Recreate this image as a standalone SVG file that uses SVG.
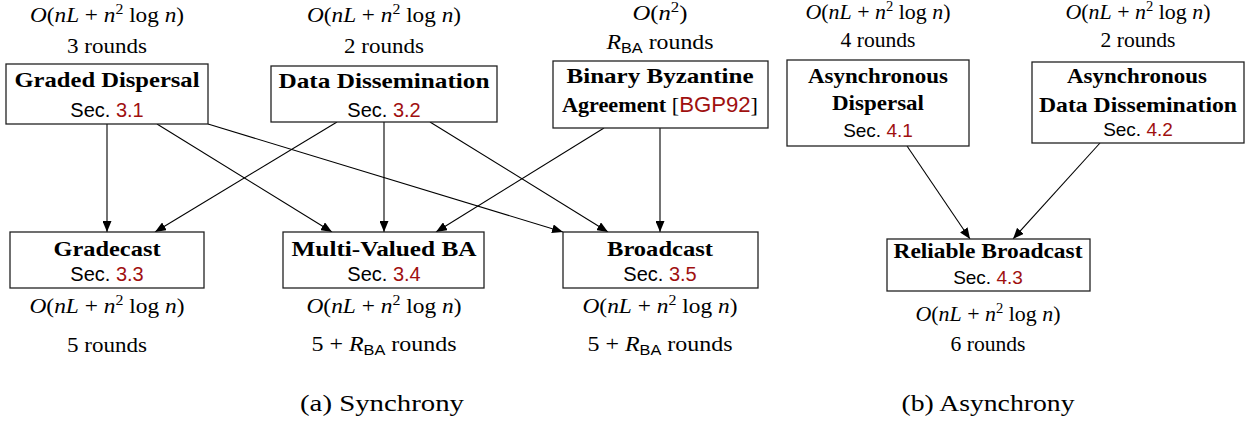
<svg xmlns="http://www.w3.org/2000/svg" width="1252" height="428" viewBox="0 0 1252 428">
<style>
  .t { font-family: "Liberation Serif", "DejaVu Serif", serif; font-size: 22px; fill: #000; text-anchor: middle; }
  .ta { font-family: "Liberation Serif", "DejaVu Serif", serif; font-size: 21px; fill: #000; text-anchor: middle; }
  .b { font-weight: bold; }
  .i { font-style: italic; }
  .s { font-family: "Liberation Sans", "DejaVu Sans", sans-serif; font-size: 20px; fill: #000; text-anchor: middle; }
  .sa { font-family: "Liberation Sans", "DejaVu Sans", sans-serif; font-size: 19px; fill: #000; text-anchor: middle; }
  .sub { font-family: "Liberation Sans", "DejaVu Sans", sans-serif; font-size: 15px; font-style: normal; }
  .sf { font-family: "Liberation Sans", "DejaVu Sans", sans-serif; font-weight: normal; }
  .red { fill: #a01010; }
  .box { fill: #fff; stroke: #222; stroke-width: 1.3; }
  .edge { fill: none; stroke: #000; stroke-width: 1.1; marker-end: url(#arr); }
  .cap { font-family: "Liberation Serif", "DejaVu Serif", serif; font-size: 23px; fill: #000; text-anchor: middle; }
</style>
<defs>
  <marker id="arr" markerUnits="userSpaceOnUse" markerWidth="11" markerHeight="9" refX="11" refY="4.5" orient="auto">
    <path d="M0,0 L11,4.5 L0,9 z" fill="#000"/>
  </marker>
</defs>
<rect width="1252" height="428" fill="#fff"/>

<g id="connectors">
  <line class="edge" x1="107" y1="124" x2="107" y2="232"/>
  <line class="edge" x1="157" y1="124" x2="332" y2="232"/>
  <line class="edge" x1="208" y1="124" x2="563" y2="232"/>
  <line class="edge" x1="337" y1="122" x2="155" y2="232"/>
  <line class="edge" x1="384" y1="122" x2="384" y2="232"/>
  <line class="edge" x1="430" y1="122" x2="608" y2="232"/>
  <line class="edge" x1="604" y1="128" x2="436" y2="232"/>
  <line class="edge" x1="660" y1="128" x2="660" y2="232"/>
  <line class="edge" x1="907" y1="146" x2="970" y2="239"/>
  <line class="edge" x1="1100" y1="143" x2="1013" y2="239"/>
</g>

<g id="graded-dispersal">
  <text class="t" x="107" y="22" textLength="154" lengthAdjust="spacingAndGlyphs"><tspan class="i">O</tspan>(<tspan class="i">nL</tspan> + <tspan class="i">n</tspan><tspan font-size="15" dy="-8">2</tspan><tspan dy="8"> log </tspan><tspan class="i">n</tspan>)</text>
  <text class="t" x="107" y="53" textLength="80" lengthAdjust="spacingAndGlyphs">3 rounds</text>
  <rect class="box" x="6" y="64" width="202" height="60"/>
  <text class="t b" x="107" y="87" textLength="185" lengthAdjust="spacingAndGlyphs">Graded Dispersal</text>
  <text class="s" x="107" y="117">Sec. <tspan class="red">3.1</tspan></text>
</g>

<g id="data-dissemination">
  <text class="t" x="384" y="22" textLength="154" lengthAdjust="spacingAndGlyphs"><tspan class="i">O</tspan>(<tspan class="i">nL</tspan> + <tspan class="i">n</tspan><tspan font-size="15" dy="-8">2</tspan><tspan dy="8"> log </tspan><tspan class="i">n</tspan>)</text>
  <text class="t" x="384" y="53" textLength="80" lengthAdjust="spacingAndGlyphs">2 rounds</text>
  <rect class="box" x="271" y="66" width="226" height="56"/>
  <text class="t b" x="384" y="88" textLength="211" lengthAdjust="spacingAndGlyphs">Data Dissemination</text>
  <text class="s" x="384" y="117">Sec. <tspan class="red">3.2</tspan></text>
</g>

<g id="binary-ba">
  <text class="t" x="660" y="20" textLength="55" lengthAdjust="spacingAndGlyphs"><tspan class="i">O</tspan>(<tspan class="i">n</tspan><tspan font-size="15" dy="-8">2</tspan><tspan dy="8">)</tspan></text>
  <text class="t" x="660" y="49" textLength="107" lengthAdjust="spacingAndGlyphs"><tspan class="i">R</tspan><tspan class="sub" dy="4">BA</tspan><tspan dy="-4"> rounds</tspan></text>
  <rect class="box" x="553" y="61" width="215" height="67"/>
  <text class="t b" x="660" y="83" textLength="187" lengthAdjust="spacingAndGlyphs">Binary Byzantine</text>
  <text class="t" x="660" y="112" textLength="196" lengthAdjust="spacingAndGlyphs"><tspan class="b">Agreement</tspan> [<tspan class="sf red">BGP92</tspan>]</text>
</g>

<g id="async-dispersal">
  <text class="ta" x="878" y="19" textLength="145" lengthAdjust="spacingAndGlyphs"><tspan class="i">O</tspan>(<tspan class="i">nL</tspan> + <tspan class="i">n</tspan><tspan font-size="14" dy="-8">2</tspan><tspan dy="8"> log </tspan><tspan class="i">n</tspan>)</text>
  <text class="ta" x="878" y="47" textLength="75" lengthAdjust="spacingAndGlyphs">4 rounds</text>
  <rect class="box" x="787" y="60" width="182" height="86"/>
  <text class="ta b" x="878" y="83" textLength="140" lengthAdjust="spacingAndGlyphs">Asynchronous</text>
  <text class="ta b" x="878" y="110" textLength="92" lengthAdjust="spacingAndGlyphs">Dispersal</text>
  <text class="sa" x="878" y="137">Sec. <tspan class="red">4.1</tspan></text>
</g>

<g id="async-data-dissemination">
  <text class="ta" x="1138" y="19" textLength="145" lengthAdjust="spacingAndGlyphs"><tspan class="i">O</tspan>(<tspan class="i">nL</tspan> + <tspan class="i">n</tspan><tspan font-size="14" dy="-8">2</tspan><tspan dy="8"> log </tspan><tspan class="i">n</tspan>)</text>
  <text class="ta" x="1138" y="47" textLength="75" lengthAdjust="spacingAndGlyphs">2 rounds</text>
  <rect class="box" x="1032" y="62" width="212" height="81"/>
  <text class="ta b" x="1137" y="83" textLength="140" lengthAdjust="spacingAndGlyphs">Asynchronous</text>
  <text class="ta b" x="1138" y="112" textLength="198" lengthAdjust="spacingAndGlyphs">Data Dissemination</text>
  <text class="sa" x="1138" y="136">Sec. <tspan class="red">4.2</tspan></text>
</g>

<g id="gradecast">
  <rect class="box" x="10" y="232" width="194" height="56"/>
  <text class="t b" x="107" y="256" textLength="107" lengthAdjust="spacingAndGlyphs">Gradecast</text>
  <text class="s" x="107" y="281">Sec. <tspan class="red">3.3</tspan></text>
  <text class="t" x="107" y="313" textLength="155" lengthAdjust="spacingAndGlyphs"><tspan class="i">O</tspan>(<tspan class="i">nL</tspan> + <tspan class="i">n</tspan><tspan font-size="15" dy="-8">2</tspan><tspan dy="8"> log </tspan><tspan class="i">n</tspan>)</text>
  <text class="t" x="107" y="352" textLength="80" lengthAdjust="spacingAndGlyphs">5 rounds</text>
</g>

<g id="multi-valued-ba">
  <rect class="box" x="283" y="232" width="201" height="56"/>
  <text class="t b" x="384" y="256" textLength="185" lengthAdjust="spacingAndGlyphs">Multi-Valued BA</text>
  <text class="s" x="384" y="281">Sec. <tspan class="red">3.4</tspan></text>
  <text class="t" x="384" y="313" textLength="155" lengthAdjust="spacingAndGlyphs"><tspan class="i">O</tspan>(<tspan class="i">nL</tspan> + <tspan class="i">n</tspan><tspan font-size="15" dy="-8">2</tspan><tspan dy="8"> log </tspan><tspan class="i">n</tspan>)</text>
  <text class="t" x="384" y="351" textLength="145" lengthAdjust="spacingAndGlyphs">5 + <tspan class="i">R</tspan><tspan class="sub" dy="4">BA</tspan><tspan dy="-4"> rounds</tspan></text>
</g>

<g id="broadcast">
  <rect class="box" x="563" y="232" width="195" height="56"/>
  <text class="t b" x="660" y="256" textLength="106" lengthAdjust="spacingAndGlyphs">Broadcast</text>
  <text class="s" x="660" y="281">Sec. <tspan class="red">3.5</tspan></text>
  <text class="t" x="660" y="313" textLength="155" lengthAdjust="spacingAndGlyphs"><tspan class="i">O</tspan>(<tspan class="i">nL</tspan> + <tspan class="i">n</tspan><tspan font-size="15" dy="-8">2</tspan><tspan dy="8"> log </tspan><tspan class="i">n</tspan>)</text>
  <text class="t" x="660" y="351" textLength="145" lengthAdjust="spacingAndGlyphs">5 + <tspan class="i">R</tspan><tspan class="sub" dy="4">BA</tspan><tspan dy="-4"> rounds</tspan></text>
</g>

<g id="reliable-broadcast">
  <rect class="box" x="887" y="239" width="203" height="52"/>
  <text class="ta b" x="988" y="258" textLength="189" lengthAdjust="spacingAndGlyphs">Reliable Broadcast</text>
  <text class="sa" x="988" y="284">Sec. <tspan class="red">4.3</tspan></text>
  <text class="ta" x="988" y="321" textLength="145" lengthAdjust="spacingAndGlyphs"><tspan class="i">O</tspan>(<tspan class="i">nL</tspan> + <tspan class="i">n</tspan><tspan font-size="14" dy="-8">2</tspan><tspan dy="8"> log </tspan><tspan class="i">n</tspan>)</text>
  <text class="ta" x="988" y="351" textLength="75" lengthAdjust="spacingAndGlyphs">6 rounds</text>
</g>

<g id="captions">
  <text class="cap" x="382" y="411" textLength="164" lengthAdjust="spacingAndGlyphs">(a) Synchrony</text>
  <text class="cap" x="988" y="411" textLength="173" lengthAdjust="spacingAndGlyphs">(b) Asynchrony</text>
</g>
</svg>
